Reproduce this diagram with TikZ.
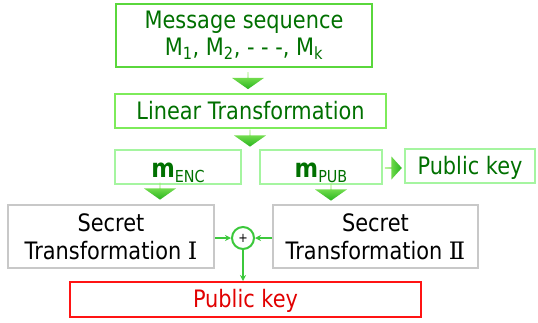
\documentclass[tikz,border=0pt]{standalone}
\usepackage{fontspec}
\setmainfont{DejaVu Sans}[FakeStretch=0.87]
\newfontfamily\numfont{DejaVu Serif}
\usetikzlibrary{shapes.arrows,arrows.meta,calc}
\definecolor{txtgreen}{RGB}{0,112,0}
\definecolor{bordA}{RGB}{90,215,60}
\definecolor{bordB}{RGB}{125,235,90}
\definecolor{bordC}{RGB}{165,245,160}
\definecolor{bordGray}{RGB}{200,200,200}
\definecolor{arrLight}{RGB}{150,240,100}
\definecolor{arrDark}{RGB}{40,180,30}
\definecolor{lineGreen}{RGB}{60,200,60}
\definecolor{redBord}{RGB}{255,20,20}
\definecolor{redTxt}{RGB}{225,0,0}
\begin{document}
\begin{tikzpicture}[x=1pt,y=-1pt,
  box/.style={draw, line width=2pt, rectangle, inner sep=0pt, align=center,
    font=\fontsize{24}{28}\selectfont},
  fatdown/.style={single arrow, draw=none, inner sep=0pt, minimum height=17pt,
    minimum width=32pt, single arrow head extend=8.5pt, single arrow tip angle=110,
    top color=arrLight, bottom color=arrDark, rotate=-90},
  fatright/.style={single arrow, draw=none, inner sep=0pt, minimum height=17pt,
    minimum width=23pt, single arrow head extend=3.5pt, single arrow tip angle=96,
    left color=arrLight, right color=arrDark},
  thin/.style={draw=lineGreen, line width=1.5pt, -{Stealth[length=6pt,width=6pt]}}
]
\useasboundingbox (0,0) rectangle (538,322);

\node[box, draw=bordA, minimum width=256pt, minimum height=63pt, text=txtgreen,
  font=\fontsize{24}{27}\selectfont] (msg) at (244,35.5)
  {Message sequence\\M\textsubscript{1}, M\textsubscript{2}, - - -, M\textsubscript{k}};

\node[box, draw=bordB, minimum width=271pt, minimum height=34pt, text=txtgreen]
  (lin) at (250.5,111) {Linear Transformation};

\node[box, draw=bordC, minimum width=126pt, minimum height=34pt, text=txtgreen,
  text height=20pt, text depth=0pt] (enc) at (178,167)
  {{\fontsize{26}{26}\selectfont\bfseries m}\raisebox{-5pt}{\fontsize{16.5}{16.5}\selectfont ENC}};

\node[box, draw=bordC, minimum width=122pt, minimum height=34pt, text=txtgreen,
  text height=20pt, text depth=0pt] (pub) at (321,167)
  {{\fontsize{26}{26}\selectfont\bfseries m}\raisebox{-5pt}{\fontsize{16.5}{16.5}\selectfont PUB}};

\node[box, draw=bordC, minimum width=130pt, minimum height=34pt, text=txtgreen,
  text height=19pt, text depth=3pt] (pk) at (470,166) {Public key};

\node[box, draw=bordGray, minimum width=206pt, minimum height=63pt, text=black]
  (sec1) at (111,236.5) {Secret\\Transformation {\numfont Ⅰ}};

\node[box, draw=bordGray, minimum width=205pt, minimum height=63pt, text=black]
  (sec2) at (375.5,236.5) {Secret\\Transformation {\numfont Ⅱ}};

\node[circle, draw=lineGreen, line width=2pt, minimum size=22pt, inner sep=0pt,
  font=\fontsize{13}{13}\selectfont] (plus) at (243,238) {+};

\node[box, draw=redBord, minimum width=351pt, minimum height=35pt, text=redTxt,
  text height=19pt, text depth=3pt] (red) at (245.5,299.5) {Public key};

\node[fatdown] (a1) at (248,80.5) {};
\node[fatdown] (a2) at (250,138) {};
\node[fatdown] (a3) at (160,191) {};
\node[fatdown] (a4) at (331,192) {};
\node[fatright] (a5) at (393,168) {};

\draw[thin] (sec1.east |- plus.west) -- (plus.west);
\draw[thin] (sec2.west |- plus.east) -- (plus.east);
\draw[thin] (plus.south) -- (plus.south |- red.north);
\end{tikzpicture}
\end{document}
